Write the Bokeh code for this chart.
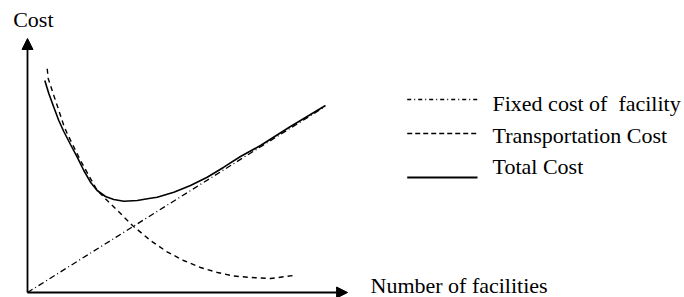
from bokeh.plotting import figure
from bokeh.models import Range1d, Arrow, NormalHead, Label
from bokeh.embed import file_html
from bokeh.resources import INLINE

# ---- data (abstract units: facilities vs cost) ----
fixed_x = [0.0, 9.867]
fixed_y = [0.0, 7.4]

transport_x = [0.657, 0.69, 0.767, 0.877, 0.99, 1.1, 1.21, 1.323, 1.767, 2.043, 2.323, 2.657,
               2.933, 3.5, 4.1, 4.633, 5.2, 5.767, 6.333, 6.867, 7.433, 8.1, 8.867]
transport_y = [8.948, 8.56, 8.28, 7.88, 7.48, 7.08, 6.68, 6.36, 5.28, 4.68, 4.08, 3.68,
               3.36, 2.68, 2.08, 1.64, 1.28, 1.0, 0.8, 0.66, 0.6, 0.56, 0.68]

total_x = [0.577, 0.71, 0.877, 1.043, 1.21, 1.433, 1.657, 1.877, 2.1, 2.323, 2.6, 2.877, 3.21,
           3.657, 4.1, 4.323, 4.877, 5.433, 5.99, 6.543, 7.1, 7.767, 8.767, 9.933]
total_y = [8.48, 7.96, 7.412, 6.88, 6.44, 5.92, 5.412, 4.88, 4.412, 4.08, 3.84, 3.72, 3.652,
           3.68, 3.772, 3.812, 4.012, 4.28, 4.612, 5.012, 5.44, 5.88, 6.64, 7.48]

legend_labels = ["Fixed cost of\u00a0 facility", "Transportation Cost", "Total Cost"]
y_axis_label = "Cost"
x_axis_label = "Number of facilities"

FONT = "Liberation Serif"
FS = "22px"

p = figure(width=684, height=297, output_backend="svg", toolbar_location=None,
           x_range=Range1d(-0.9, 21.9), y_range=Range1d(-0.2, 11.68),
           min_border=0, x_axis_type=None, y_axis_type=None)
p.grid.visible = False
p.outline_line_color = None
p.background_fill_color = "white"

# axes with arrows
p.add_layout(Arrow(x_start=0, y_start=0, x_end=10.67, y_end=0, line_width=1.8,
                   end=NormalHead(size=11, fill_color="black", line_color="black")))
p.add_layout(Arrow(x_start=0, y_start=0, x_end=0, y_end=10.16, line_width=1.8,
                   end=NormalHead(size=11, fill_color="black", line_color="black")))

# curves
p.line(fixed_x, fixed_y, line_color="black", line_width=1.3, line_dash="6 3 1 3")
p.line(transport_x, transport_y, line_color="black", line_width=1.4, line_dash="5 4")
p.line(total_x, total_y, line_color="black", line_width=1.6)

# legend (manual)
leg_x0, leg_x1, leg_tx = 12.657, 15.0, 15.5
leg_line_y = [7.72, 6.36, 4.6]
leg_text_y = [7.58, 6.3, 5.03]
dashes = ["4 3 1 3", "5 3", "solid"]
for i, lab in enumerate(legend_labels):
    p.line([leg_x0, leg_x1], [leg_line_y[i], leg_line_y[i]], line_color="black",
           line_width=1.3 if i < 2 else 1.8, line_dash=dashes[i])
    p.add_layout(Label(x=leg_tx, y=leg_text_y[i], text=lab, text_font=FONT, text_font_size=FS,
                       text_baseline="alphabetic", text_color="black"))

p.add_layout(Label(x=-0.477, y=10.91, text=y_axis_label, text_font=FONT, text_font_size=FS,
                   text_baseline="alphabetic", text_color="black"))
p.add_layout(Label(x=11.433, y=0.3, text=x_axis_label, text_font=FONT, text_font_size=FS,
                   text_baseline="alphabetic", text_color="black"))

open("out.html", "w").write(file_html(p, INLINE))
